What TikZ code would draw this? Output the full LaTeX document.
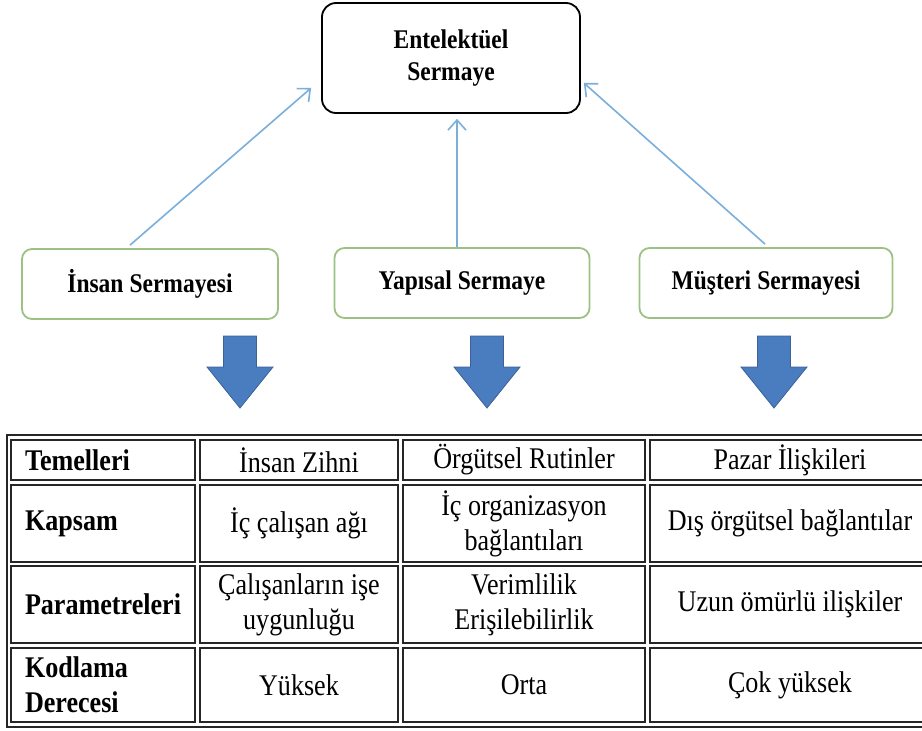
\documentclass[tikz,border=0pt]{standalone}
\usepackage{fontspec}
\setmainfont{Liberation Serif}[FakeStretch=0.87]
\usetikzlibrary{arrows.meta}
\definecolor{linkblue}{HTML}{7AAEDB}
\definecolor{boxgreen}{HTML}{9DC183}
\definecolor{bigblue}{HTML}{4A7CC0}
\definecolor{bigedge}{HTML}{3A6297}
\newcommand\boxspace{\spaceskip 6pt\relax}
\newcommand\cellspace{\spaceskip 6.5pt\relax}
\tikzset{
  capital/.style={draw=black, line width=1.8pt, rounded corners=14pt, minimum width=258pt, minimum height=110pt, align=center, font=\fontsize{27}{32}\selectfont\bfseries\boxspace},
  part/.style={draw=boxgreen, line width=1.8pt, rounded corners=10pt, minimum height=70pt, font=\fontsize{27}{32}\selectfont\bfseries\boxspace},
  link/.style={draw=linkblue, line width=1.6pt, ->},
  cell/.style={draw=black!85, line width=1.4pt, inner sep=0pt, align=flush center, font=\fontsize{30}{35}\selectfont\cellspace},
  colA/.style={cell, align=flush left, font=\fontsize{30}{35}\selectfont\bfseries\cellspace, minimum width=184pt, text width=156pt, inner xsep=14pt},
  colB/.style={cell, minimum width=198pt, text width=198pt},
  colC/.style={cell, minimum width=242pt, text width=242pt},
  colD/.style={cell, minimum width=280pt, text width=280pt},
}
\begin{document}
\begin{tikzpicture}[x=1pt, y=-1pt, >={Straight Barb[length=10pt,width=18pt]}]
  \useasboundingbox (0,0) rectangle (922,731);
  \clip (0,0) rectangle (922,731);
  \node[capital] (ent) at (451,58) {Entelektüel\\Sermaye};
  \node[part, minimum width=256pt] (insan) at (150,284) {İnsan Sermayesi};
  \node[part, minimum width=255pt] (yapisal) at (462,283) {Yapısal Sermaye};
  \node[part, minimum width=253pt] (musteri) at (766,283) {Müşteri Sermayesi};
  \draw[link] ([shift={(-20,-3)}]insan.north) -- ([shift={(-10,30)}]ent.west);
  \draw[link] ([shift={(-5,0)}]yapisal.north) -- ([shift={(6,5)}]ent.south);
  \draw[link] ([shift={(-1,-3)}]musteri.north) -- ([shift={(3,25)}]ent.east);
  \foreach \cx in {240,487,774}
    \filldraw[fill=bigblue, draw=bigedge, line width=0.8pt] ({\cx-16.5},336) -- ({\cx+16.5},336) -- ({\cx+16.5},367) -- ({\cx+33},367) -- (\cx,408) -- ({\cx-33},367) -- ({\cx-16.5},367) -- cycle;
  \draw[line width=2.2pt, black!85] (7,435) rectangle (935,727);
  \node[colA, minimum height=40pt] (temel) at (103,460) {Temelleri};
  \node[colB, minimum height=40pt] (temel-i) at (299,460) {İnsan Zihni};
  \node[colC, minimum height=40pt] (temel-y) at (524,460) {Örgütsel Rutinler};
  \node[colD, minimum height=40pt] (temel-m) at (790,460) {Pazar İlişkileri};
  \node[colA, minimum height=77pt] (kapsam) at (103,523.5) {Kapsam};
  \node[colB, minimum height=77pt] (kapsam-i) at (299,523.5) {İç çalışan ağı};
  \node[colC, minimum height=77pt] (kapsam-y) at (524,523.5) {İç organizasyon\\bağlantıları};
  \node[colD, minimum height=77pt] (kapsam-m) at (790,523.5) {Dış örgütsel bağlantılar};
  \node[colA, minimum height=77pt] (param) at (103,604.5) {Parametreleri};
  \node[colB, minimum height=77pt] (param-i) at (299,604.5) {Çalışanların işe\\uygunluğu};
  \node[colC, minimum height=77pt] (param-y) at (524,604.5) {Verimlilik\\Erişilebilirlik};
  \node[colD, minimum height=77pt] (param-m) at (790,604.5) {Uzun ömürlü ilişkiler};
  \node[colA, minimum height=74pt] (kod) at (103,685) {Kodlama\\Derecesi};
  \node[colB, minimum height=74pt] (kod-i) at (299,685) {Yüksek};
  \node[colC, minimum height=74pt] (kod-y) at (524,685) {Orta};
  \node[colD, minimum height=74pt] (kod-m) at (790,685) {Çok yüksek};
\end{tikzpicture}
\end{document}
